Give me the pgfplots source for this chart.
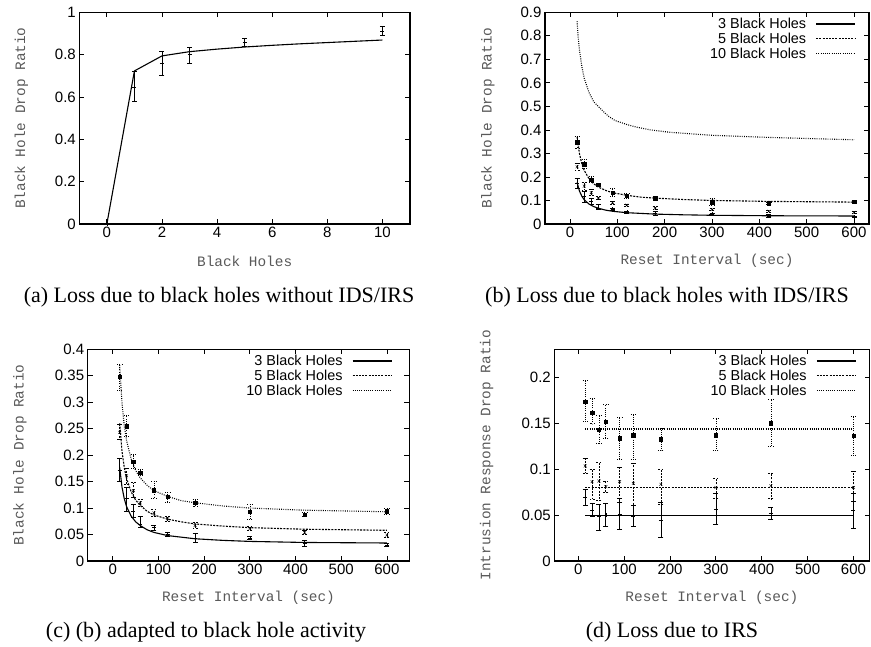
\documentclass[border=0pt]{standalone}
\usepackage{fontspec}
\setmainfont{Liberation Serif}
\newfontfamily\helv{Liberation Sans}
\newfontfamily\cour{Liberation Mono}
\usepackage{pgfplots}
\pgfplotsset{compat=1.18}
\usepackage{pgfplotstable}

% measured points, x y err+ err-
\pgfplotstableread{
x y ep em
0 0 0 0
1 0.646 0.074 0.068
2 0.759 0.055 0.055
3 0.803 0.032 0.044
5 0.860 0.017 0.019
10 0.913 0.022 0.020
}\tabA
\pgfplotstableread{
x y ep em
15 0.172 0.022 0.022
30 0.118 0.022 0.025
45 0.095 0.012 0.013
60 0.069 0.016 0.006
90 0.063 0.005 0.005
120 0.050 0.004 0.004
180 0.044 0.008 0.009
300 0.043 0.003 0.003
420 0.0335 0.006 0.006
600 0.030 0.003 0.003
}\bhThree
\pgfplotstableread{
x y ep em
15 0.243 0.015 0.013
30 0.161 0.014 0.016
45 0.133 0.015 0.013
60 0.110 0.006 0.006
90 0.091 0.006 0.006
120 0.080 0.005 0.005
180 0.067 0.006 0.006
300 0.061 0.004 0.004
420 0.054 0.004 0.004
600 0.049 0.005 0.005
}\bhFive
\pgfplotstableread{
x y ep em
15 0.348 0.024 0.025
30 0.255 0.020 0.020
45 0.188 0.013 0.013
60 0.167 0.006 0.006
90 0.134 0.016 0.016
120 0.121 0.009 0.010
180 0.110 0.006 0.006
300 0.093 0.014 0.014
420 0.088 0.004 0.004
600 0.094 0.006 0.006
}\bhTen
% fitted curves
\pgfplotstableread{
x c3 c5 c10
15 0.177 0.260 0.370
20 0.140 0.208 0.299
25 0.118 0.177 0.256
30 0.103 0.156 0.228
40 0.085 0.131 0.193
50 0.074 0.115 0.171
60 0.067 0.105 0.157
75 0.059 0.094 0.143
90 0.054 0.087 0.133
120 0.048 0.079 0.122
150 0.045 0.074 0.114
180 0.042 0.070 0.110
240 0.039 0.066 0.104
300 0.037 0.063 0.100
420 0.035 0.060 0.096
600 0.034 0.058 0.093
}\fitC
% upper curve of panel (b)
\pgfplotstableread{
x y
15 0.862
17 0.800
20 0.740
25 0.670
30 0.620
40 0.560
50 0.520
67 0.485
80 0.460
95 0.440
120 0.423
140 0.412
170 0.400
210 0.390
300 0.377
420 0.368
600 0.358
}\fitBten
% panel (d)
\pgfplotstableread{
x y ep em
15 0.070 0.0084 0.009
30 0.0548 0.008 0.0065
45 0.0483 0.0137 0.0145
60 0.050 0.0128 0.012
90 0.0512 0.017 0.017
120 0.049 0.012 0.0116
180 0.0447 0.019 0.019
300 0.0563 0.017 0.016
420 0.052 0.0065 0.0063
600 0.055 0.019 0.019
}\irsThree
\pgfplotstableread{
x y ep em
15 0.1035 0.0085 0.008
30 0.0864 0.0135 0.019
45 0.0871 0.020 0.021
60 0.081 0.006 0.0065
90 0.0864 0.016 0.022
120 0.0846 0.022 0.024
180 0.0835 0.016 0.022
300 0.080 0.010 0.012
420 0.082 0.014 0.014
600 0.080 0.018 0.0155
}\irsFive
\pgfplotstableread{
x y ep em
15 0.1736 0.023 0.022
30 0.1616 0.016 0.012
45 0.1427 0.016 0.015
60 0.1518 0.019 0.018
90 0.1336 0.023 0.023
120 0.137 0.023 0.026
180 0.1325 0.012 0.012
300 0.137 0.018 0.016
420 0.150 0.026 0.025
600 0.1365 0.021 0.021
}\irsTen

\pgfplotsset{
  gp/.style={scale only axis, height=211.7pt,
    axis line style={line width=1.2pt},
    tick style={black, line width=0.8pt}, major tick length=5pt,
    /pgf/number format/assume math mode=true,
    tick label style={font=\helv\fontsize{15}{16}\selectfont},
    yticklabel style={/pgf/number format/fixed, /pgf/number format/precision=2},
    scaled y ticks=false,
    label style={font=\cour\fontsize{14.4}{15}\selectfont, text=black!65},
    xlabel style={at={(axis description cs:0.5,0)}, anchor=center, yshift=-37pt},
    legend style={draw=none, fill=none, at={(rel axis cs:1,1)}, anchor=north east,
      xshift=-14pt, yshift=-3pt, font=\helv\fontsize{14.4}{15}\selectfont,
      row sep=2pt, nodes={inner sep=0.5pt}},
    legend cell align=right, legend plot pos=right,
    legend image code/.code={\path (0pt,0pt) (48pt,0pt);\draw[##1] (9pt,0pt) -- (48pt,0pt);},
  },
  eb/.style={error bars/.cd, y dir=both, y explicit,
    error bar style={line width=0.7pt, #1},
    error mark options={rotate=90, line width=0.7pt, mark size=2.5pt, #1}},
  s3/.style={line width=1.1pt, solid},
  s5/.style={line width=1.1pt, dash pattern=on 2pt off 1.2pt},
  s10/.style={line width=1.1pt, dash pattern=on 0.9pt off 1.3pt},
}

\begin{document}
\begin{tikzpicture}
\useasboundingbox (0,0) rectangle (871pt,647pt);

% (a)
\begin{axis}[gp, at={(79.3pt,423pt)}, anchor=south west, width=330.7pt,
  xmin=-1, xmax=11, ymin=0, ymax=1,
  xtick={0,2,4,6,8,10}, ytick={0,0.2,0.4,0.6,0.8,1},
  xlabel={Black Holes}, ylabel={Black Hole Drop Ratio},
  ylabel style={at={(axis description cs:0,0.5)}, anchor=center, yshift=58pt}]
\addplot[s3, black] coordinates {(0,0) (1,0.723) (2,0.794) (3,0.814) (4,0.826) (5,0.836) (6,0.844) (7,0.851) (8,0.857) (9,0.863) (10,0.869)};
\addplot[black, only marks, mark=+, mark size=2pt, eb={solid}] table[x=x, y=y, y error plus=ep, y error minus=em] {\tabA};
\end{axis}

% (b)
\begin{axis}[gp, at={(545pt,423pt)}, anchor=south west, width=324pt,
  xmin=-52.8, xmax=631.7, ymin=0, ymax=0.9,
  xtick={0,100,200,300,400,500,600}, ytick={0,0.1,0.2,0.3,0.4,0.5,0.6,0.7,0.8,0.9},
  xlabel={Reset Interval (sec)}, ylabel={Black Hole Drop Ratio},
  ylabel style={at={(axis description cs:0,0.5)}, anchor=center, yshift=57pt},
  legend style={xshift=4pt}]
\addplot[s3, black] table[x=x, y=c3] {\fitC};
\addlegendentry{3 Black Holes}
\addplot[s5, black] table[x=x, y=c10] {\fitC};
\addlegendentry{5 Black Holes}
\addplot[s10, black] table[x=x, y=y] {\fitBten};
\addlegendentry{10 Black Holes}
\addplot[black, only marks, mark=+, mark size=2pt, forget plot, eb={solid}] table[x=x, y=y, y error plus=ep, y error minus=em] {\bhThree};
\addplot[black, only marks, mark=x, mark size=2pt, forget plot, eb={dash pattern=on 2pt off 1.2pt}] table[x=x, y=y, y error plus=ep, y error minus=em] {\bhFive};
\addplot[black, only marks, mark=square*, mark size=1.7pt, forget plot, eb={dash pattern=on 0.9pt off 1.3pt}] table[x=x, y=y, y error plus=ep, y error minus=em] {\bhTen};
\end{axis}

% (c)
\begin{axis}[gp, at={(87.7pt,86pt)}, anchor=south west, width=321.6pt,
  xmin=-55, xmax=649, ymin=0, ymax=0.4,
  xtick={0,100,200,300,400,500,600}, ytick={0,0.05,0.1,0.15,0.2,0.25,0.3,0.35,0.4},
  xlabel={Reset Interval (sec)}, ylabel={Black Hole Drop Ratio},
  ylabel style={at={(axis description cs:0,0.5)}, anchor=center, yshift=67.7pt}]
\addplot[s3, black] table[x=x, y=c3] {\fitC};
\addlegendentry{3 Black Holes}
\addplot[s5, black] table[x=x, y=c5] {\fitC};
\addlegendentry{5 Black Holes}
\addplot[s10, black] table[x=x, y=c10] {\fitC};
\addlegendentry{10 Black Holes}
\addplot[black, only marks, mark=+, mark size=2pt, forget plot, eb={solid}] table[x=x, y=y, y error plus=ep, y error minus=em] {\bhThree};
\addplot[black, only marks, mark=x, mark size=2pt, forget plot, eb={dash pattern=on 2pt off 1.2pt}] table[x=x, y=y, y error plus=ep, y error minus=em] {\bhFive};
\addplot[black, only marks, mark=square*, mark size=1.7pt, forget plot, eb={dash pattern=on 0.9pt off 1.3pt}] table[x=x, y=y, y error plus=ep, y error minus=em] {\bhTen};
\end{axis}

% (d)
\begin{axis}[gp, at={(554.3pt,86pt)}, anchor=south west, width=315.2pt,
  xmin=-52.4, xmax=635, ymin=0, ymax=0.2306,
  xtick={0,100,200,300,400,500,600}, ytick={0,0.05,0.1,0.15,0.2},
  xlabel={Reset Interval (sec)}, ylabel={Intrusion Response Drop Ratio},
  ylabel style={at={(axis description cs:0,0.5)}, anchor=center, yshift=67.6pt},
  legend style={xshift=4pt}]
\addplot[s3, black] coordinates {(15,0.05) (600,0.05)};
\addlegendentry{3 Black Holes}
\addplot[s5, black] coordinates {(15,0.0803) (600,0.0803)};
\addlegendentry{5 Black Holes}
\addplot[s10, black] coordinates {(15,0.1438) (600,0.1438)};
\addlegendentry{10 Black Holes}
\addplot[black, only marks, mark=+, mark size=2pt, forget plot, eb={solid}] table[x=x, y=y, y error plus=ep, y error minus=em] {\irsThree};
\addplot[black, only marks, mark=x, mark size=2pt, forget plot, eb={dash pattern=on 2pt off 1.2pt}] table[x=x, y=y, y error plus=ep, y error minus=em] {\irsFive};
\addplot[black, only marks, mark=square*, mark size=1.7pt, forget plot, eb={dash pattern=on 0.9pt off 1.3pt}] table[x=x, y=y, y error plus=ep, y error minus=em] {\irsTen};
\end{axis}

\begin{scope}[every node/.style={inner sep=0pt, anchor=base, font=\fontsize{22}{24}\selectfont}]
\node at (219pt,344pt) {(a) Loss due to black holes without IDS/IRS};
\node at (667pt,344pt) {(b) Loss due to black holes with IDS/IRS};
\node at (206pt,9pt) {(c) (b) adapted to black hole activity};
\node at (672pt,9pt) {(d) Loss due to IRS};
\end{scope}
\end{tikzpicture}
\end{document}
